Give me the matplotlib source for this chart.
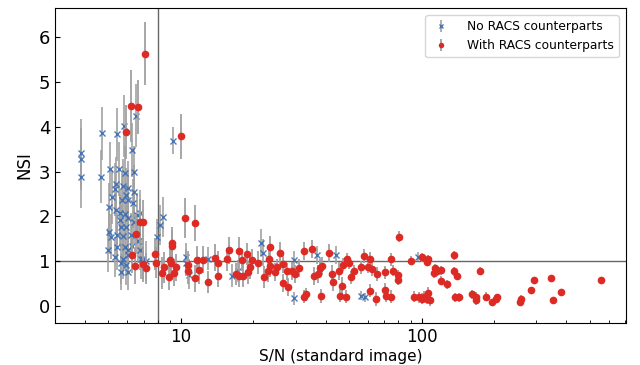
import matplotlib
matplotlib.use("Agg")
import matplotlib.pyplot as plt
from matplotlib.ticker import FuncFormatter, NullFormatter

# sources without RACS counterparts: S/N, NSI, error
blue_sn = [3.83, 3.85, 3.83, 4.68, 4.67, 5.41, 5.79, 6.53, 9.26, 6.29,
           5.09, 5.52, 5.85, 6.39, 5.4, 5.75, 6.03, 5.3, 6.39,
           5.17, 5.94, 5.7, 6.03, 6.33, 5.05, 5.4, 5.57, 5.85, 6.75, 6.59,
           5.57, 6.03, 6.39, 5.66, 5.94, 5.05, 5.11, 5.43, 5.75, 6.19, 7.95,
           6.63, 5.45, 5.85, 6.24, 6.03, 5.0, 6.75, 5.3, 5.75, 6.03, 6.96, 7.19, 6.84,
           5.66, 5.94, 5.66, 6.03, 8.44, 8.2,
           10.55, 10.5, 10.8, 13.0, 16.3, 17.3, 21.5, 22.0, 29.6, 29.6, 36.7, 44.2,
           56.1, 58.0, 96.5]
blue_nsi = [3.42, 3.28, 2.89, 3.85, 2.89, 3.83, 4.02, 4.25, 3.69, 3.48,
            3.06, 3.06, 2.96, 2.98, 2.72, 2.68, 2.64, 2.6, 2.55,
            2.43, 2.48, 2.37, 2.37, 2.29, 2.2, 2.14, 2.07, 2.05, 2.08, 2.03,
            1.92, 1.96, 1.88, 1.76, 1.76, 1.66, 1.55, 1.58, 1.56, 1.58, 1.54,
            1.45, 1.31, 1.32, 1.34, 1.25, 1.25, 1.25, 1.1, 1.06, 1.14, 1.06, 1.01, 1.06,
            0.95, 0.92, 0.75, 0.75, 1.99, 1.81,
            1.1, 0.97, 0.69, 1.06, 0.68, 0.78, 1.41, 1.19, 1.03, 0.17, 1.13, 1.13,
            0.23, 0.19, 1.1]
blue_err = [0.75, 0.7, 0.7, 0.6, 0.6, 0.6, 0.7, 0.7, 0.3, 0.6,
            0.6, 0.6, 0.6, 0.6, 0.6, 0.6, 0.6, 0.6, 0.6,
            0.6, 0.6, 0.6, 0.6, 0.55, 0.55, 0.55, 0.55, 0.55, 0.5, 0.5,
            0.55, 0.55, 0.5, 0.5, 0.5, 0.5, 0.5, 0.5, 0.5, 0.5, 0.4,
            0.5, 0.5, 0.5, 0.5, 0.5, 0.5, 0.45, 0.45, 0.45, 0.45, 0.45, 0.45, 0.45,
            0.45, 0.45, 0.4, 0.4, 0.45, 0.45,
            0.3, 0.3, 0.3, 0.25, 0.25, 0.25, 0.3, 0.3, 0.2, 0.15, 0.2, 0.2,
            0.1, 0.1, 0.1]

# sources with RACS counterparts
red_sn = [7.1, 6.19, 6.66, 5.9, 10.03,
          6.75, 6.93, 6.53, 6.27, 6.43, 6.96, 7.15,
          7.8, 7.85, 8.31, 8.52, 9.0, 9.1, 8.94, 9.35, 9.53, 9.15, 9.23,
          10.4, 11.5,
          10.7, 10.7, 11.4, 11.7, 11.9, 12.4, 13.0, 13.9, 14.3, 14.2, 15.6, 15.9, 17.5, 17.9,
          16.9, 17.4, 18.1, 18.9, 19.8, 19.4, 19.1, 20.9, 23.5, 23.3, 23.5, 23.0, 22.2,
          25.7, 25.0, 24.6,
          26.5, 27.5, 26.5, 28.0, 28.9, 29.9, 31.0, 32.5, 35.0, 32.6, 33.0, 35.8, 37.1,
          37.9, 38.6, 38.3, 41.1, 42.4, 42.7, 45.3, 46.7, 47.2, 49.0, 49.8, 46.0, 48.7,
          51.1, 52.3, 55.8, 57.9, 60.9, 60.0, 62.0, 60.9, 65.1, 64.9, 70.5, 70.8, 71.5,
          74.6, 74.6, 76.1, 79.7, 80.2, 81.0,
          90.6, 100.7, 106.3, 105, 113.7, 112.6, 116.4, 120.1, 121, 128.1, 136.5, 136.5,
          141, 175.7,
          93.5, 97.2, 100, 102.4, 105, 106.8, 108.1, 137.8, 143.2, 162.7, 167.8, 168.9,
          185, 197, 203, 205, 256, 259, 284, 292, 345, 352, 379, 556]
red_nsi = [5.63, 4.47, 4.44, 3.88, 3.79,
           1.88, 1.87, 1.6, 1.14, 0.9, 0.94, 0.84,
           1.16, 0.97, 0.74, 0.86, 1.03, 0.97, 0.65, 0.74, 0.86, 1.41, 1.35,
           1.96, 1.86,
           0.92, 0.79, 0.62, 1.03, 0.8, 1.03, 0.53, 1.08, 0.68, 0.97, 1.04, 1.24, 1.23, 1.03,
           0.71, 0.68, 0.68, 1.16, 1.03, 0.86, 0.75, 0.97, 1.31, 1.04, 0.89, 0.79, 0.65,
           1.18, 0.86, 0.75,
           0.94, 0.77, 0.52, 0.43, 0.79, 0.71, 0.85, 1.23, 1.28, 0.21, 0.26, 0.67, 0.71,
           0.84, 0.89, 0.22, 1.18, 0.71, 0.54, 0.79, 0.45, 0.92, 1.04, 0.97, 0.23, 0.21,
           0.64, 0.77, 0.86, 1.12, 1.06, 0.88, 0.83, 0.34, 0.71, 0.16, 0.75, 0.36, 0.23,
           0.21, 1.04, 0.79, 0.58, 0.69, 1.55,
           1.01, 1.09, 1.04, 0.99, 0.84, 0.73, 0.79, 0.8, 0.56, 0.48, 1.13, 0.77,
           0.67, 0.78,
           0.21, 0.19, 0.16, 0.21, 0.16, 0.3, 0.13, 0.19, 0.19, 0.26, 0.21, 0.13,
           0.21, 0.08, 0.16, 0.19, 0.1, 0.15, 0.36, 0.57, 0.63, 0.13, 0.31, 0.59]
red_err = [0.7, 0.8, 0.6, 0.6, 0.5,
           0.5, 0.5, 0.45, 0.4, 0.4, 0.4, 0.35,
           0.35, 0.35, 0.35, 0.35, 0.3, 0.3, 0.3, 0.3, 0.3, 0.35, 0.35,
           0.45, 0.4,
           0.3, 0.3, 0.3, 0.3, 0.3, 0.3, 0.25, 0.3, 0.25, 0.25, 0.25, 0.3, 0.3, 0.25,
           0.25, 0.25, 0.25, 0.25, 0.25, 0.25, 0.25, 0.25, 0.25, 0.25, 0.25, 0.25, 0.25,
           0.25, 0.2, 0.2,
           0.2, 0.2, 0.2, 0.2, 0.2, 0.2, 0.2, 0.2, 0.2, 0.15, 0.15, 0.2, 0.2,
           0.2, 0.2, 0.15, 0.2, 0.2, 0.2, 0.2, 0.2, 0.15, 0.15, 0.15, 0.15, 0.15,
           0.15, 0.15, 0.15, 0.15, 0.15, 0.15, 0.15, 0.15, 0.15, 0.15, 0.15, 0.15, 0.15,
           0.15, 0.15, 0.12, 0.12, 0.12, 0.12,
           0.1, 0.1, 0.1, 0.1, 0.1, 0.1, 0.1, 0.1, 0.1, 0.1, 0.1, 0.1,
           0.1, 0.08,
           0.12, 0.12, 0.12, 0.12, 0.12, 0.12, 0.12, 0.1, 0.1, 0.1, 0.1, 0.1,
           0.1, 0.08, 0.08, 0.08, 0.1, 0.1, 0.05, 0.05, 0.05, 0.05, 0.05, 0.05]

fig, ax = plt.subplots(figsize=(6.4, 3.65), dpi=100)
fig.subplots_adjust(left=0.086, right=0.978, top=0.978, bottom=0.115)

ax.errorbar(blue_sn, blue_nsi, yerr=blue_err, fmt='x', color='#3a6db5',
            markersize=4, mew=1, ecolor='#a0a0a0', elinewidth=1.3, alpha=0.9,
            label='No RACS counterparts', zorder=2)
ax.errorbar(red_sn, red_nsi, yerr=red_err, fmt='o', color='#dd2a24',
            markersize=4.5, ecolor='#a0a0a0', elinewidth=1.3,
            label='With RACS counterparts', zorder=3)

ax.axvline(8, color='#666666', lw=1, zorder=1)
ax.axhline(1, color='#666666', lw=1, zorder=1)

ax.set_xscale('log')
ax.set_xlim(3.0, 707)
ax.set_ylim(-0.38, 6.65)
ax.set_yticks([0, 1, 2, 3, 4, 5, 6])
ax.xaxis.set_major_formatter(FuncFormatter(lambda v, p: '%g' % v))
ax.xaxis.set_minor_formatter(NullFormatter())
ax.tick_params(direction='in', which='both', labelsize=13)
ax.tick_params(axis='x', labelsize=12)
ax.set_xlabel('S/N (standard image)', fontsize=11, labelpad=2)
ax.set_ylabel('NSI', fontsize=12)
ax.legend(loc='upper right', fontsize=8.8, markerscale=0.65,
          handlelength=1.8, handletextpad=1.2, borderaxespad=0.6)

plt.savefig('out.png')
